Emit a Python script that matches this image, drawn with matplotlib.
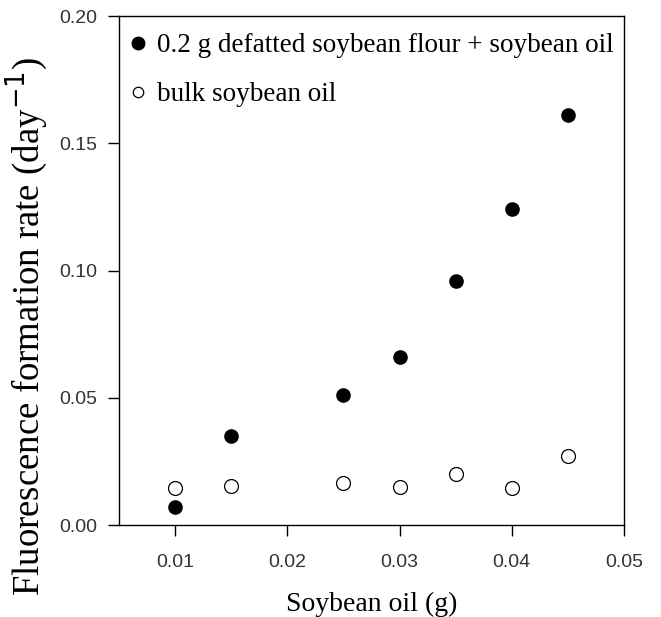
import matplotlib
matplotlib.use('Agg')
import matplotlib.pyplot as plt

oil_g = [0.010, 0.015, 0.025, 0.030, 0.035, 0.040, 0.045]
flour_rate = [0.007, 0.035, 0.051, 0.066, 0.096, 0.124, 0.161]
bulk_rate = [0.0145, 0.0155, 0.0165, 0.015, 0.020, 0.0145, 0.027]

fig = plt.figure(figsize=(6.61, 6.17), dpi=100)
ax = fig.add_axes([0.180, 0.149, 0.764, 0.825])

ax.plot(oil_g, flour_rate, 'o', color='black', markersize=9.5,
        label='0.2 g defatted soybean flour + soybean oil')
ax.plot(oil_g, bulk_rate, 'o', markerfacecolor='white', markeredgecolor='black',
        markeredgewidth=0.9, markersize=10, label='bulk soybean oil')

ax.set_xlim(0.005, 0.05)
ax.set_ylim(0, 0.20)
ax.set_xticks([0.01, 0.02, 0.03, 0.04, 0.05])
ax.set_xticklabels(['0.01', '0.02', '0.03', '0.04', '0.05'])
ax.set_yticks([0.00, 0.05, 0.10, 0.15, 0.20])
ax.set_yticklabels(['0.00', '0.05', '0.10', '0.15', '0.20'])
ax.tick_params(direction='out', length=8, width=1, labelsize=14)
ax.tick_params(axis='x', pad=13)
ax.tick_params(axis='y', pad=8)
for lab in ax.get_xticklabels() + ax.get_yticklabels():
    lab.set_fontfamily('Liberation Sans')
    lab.set_color('#333333')
for sp in ax.spines.values():
    sp.set_linewidth(1)

ax.set_xlabel('Soybean oil (g)', family='Liberation Serif', fontsize=20, labelpad=15)
ax.set_ylabel('Fluorescence formation rate (day$^{-1}$)', family='Liberation Serif',
              fontsize=26.5)
ax.yaxis.set_label_coords(-0.135, 0.39)

leg = ax.legend(loc='upper left', bbox_to_anchor=(0, 0.988), frameon=False,
                handletextpad=0.41, handlelength=0.6, borderaxespad=0,
                labelspacing=0.9,
                prop={'family': 'Liberation Serif', 'size': 19.5})
leg.legend_handles[0].set_markersize(9)
leg.legend_handles[1].set_markersize(7.5)

fig.savefig('out.png', dpi=100)
